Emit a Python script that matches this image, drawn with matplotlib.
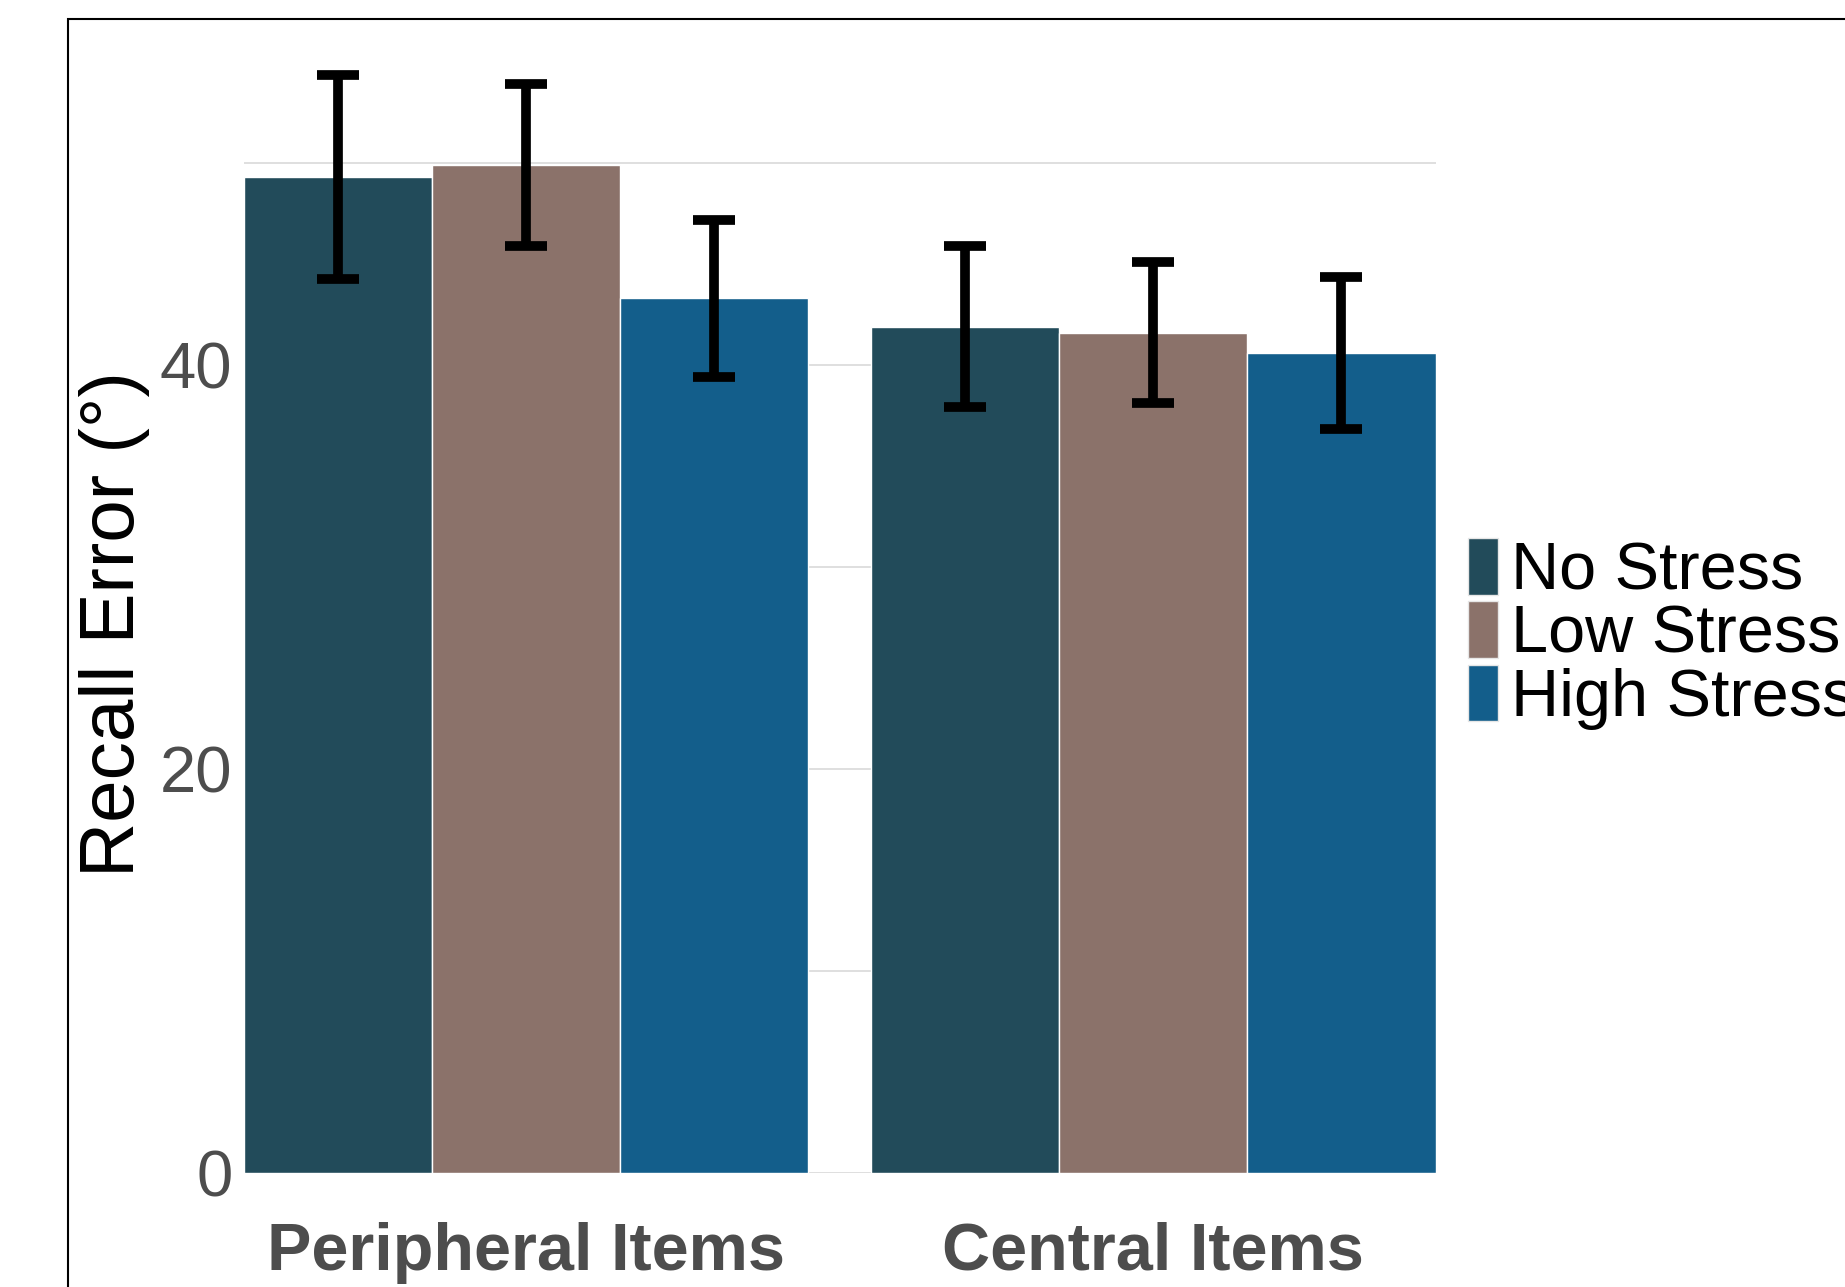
import matplotlib
matplotlib.use("Agg")
import matplotlib.pyplot as plt
import numpy as np
from matplotlib.patches import Patch, Rectangle

plt.rcParams["font.family"] = ["Liberation Sans", "DejaVu Sans"]

# moyennes et demi-intervalles (erreur de rappel, en degrés)
categories = ["Peripheral Items", "Central Items"]
groupes = ["No Stress", "Low Stress", "High Stress"]
couleurs = ["#224B5A", "#8B726A", "#135E8B"]
moyennes = {
    "No Stress":   [49.3, 41.9],
    "Low Stress":  [49.9, 41.6],
    "High Stress": [43.3, 40.6],
}
erreurs = {
    "No Stress":   [5.05, 4.0],
    "Low Stress":  [4.0, 3.5],
    "High Stress": [3.9, 3.75],
}

fig = plt.figure(figsize=(18.45, 12.87), dpi=100)
ax = fig.add_axes([0.1320, 0.0886, 0.6461, 0.8710])

largeur = 0.3
x = np.arange(len(categories))
for j, (g, c) in enumerate(zip(groupes, couleurs)):
    pos = x + (j - 1) * largeur
    ax.bar(pos, moyennes[g], width=largeur, color=c, edgecolor="white",
           linewidth=1.0, zorder=2)
    ax.errorbar(pos, moyennes[g], yerr=erreurs[g], fmt="none", ecolor="black",
                elinewidth=7, capsize=15, capthick=7, zorder=3, clip_on=False)

ax.set_xlim(-0.45, 1.45)
ax.set_ylim(0, 55.5)
ax.set_xticks(x)
ax.set_xticklabels(categories, fontsize=48, fontweight="bold", color="#4D4D4D")
ax.set_yticks([0, 20, 40])
ax.set_yticks([10, 30, 50], minor=True)
ax.tick_params(axis="y", which="both", length=0, labelsize=47, labelcolor="#4D4D4D", pad=8)
ax.tick_params(axis="x", length=0, pad=35)
ax.grid(axis="y", which="both", color="#DCDCDC", linewidth=1.3, zorder=0)
ax.set_axisbelow(True)
for s in ax.spines.values():
    s.set_visible(False)

fig.text(114 / 1845, 1 - 624 / 1287, "Recall Error (°)", rotation=90,
         ha="center", va="center", fontsize=55, color="black")

poignees = [Patch(facecolor=c, edgecolor="#E6E6E6", linewidth=1.0, label=g)
            for g, c in zip(groupes, couleurs)]
fig.legend(handles=poignees, loc="center left",
           bbox_to_anchor=(1468 / 1845, 1 - 634 / 1287), frameon=False,
           fontsize=48, handlelength=0.45, handleheight=0.92,
           handletextpad=0.2, labelspacing=-0.03, borderpad=0, borderaxespad=0)

# cadre noir autour de la figure
fig.add_artist(Rectangle((68 / 1845, -0.1), 1.2, 1 - 19 / 1287 + 0.1,
                         transform=fig.transFigure, fill=False,
                         edgecolor="black", linewidth=1.5))

fig.savefig("out.png", dpi=100)
